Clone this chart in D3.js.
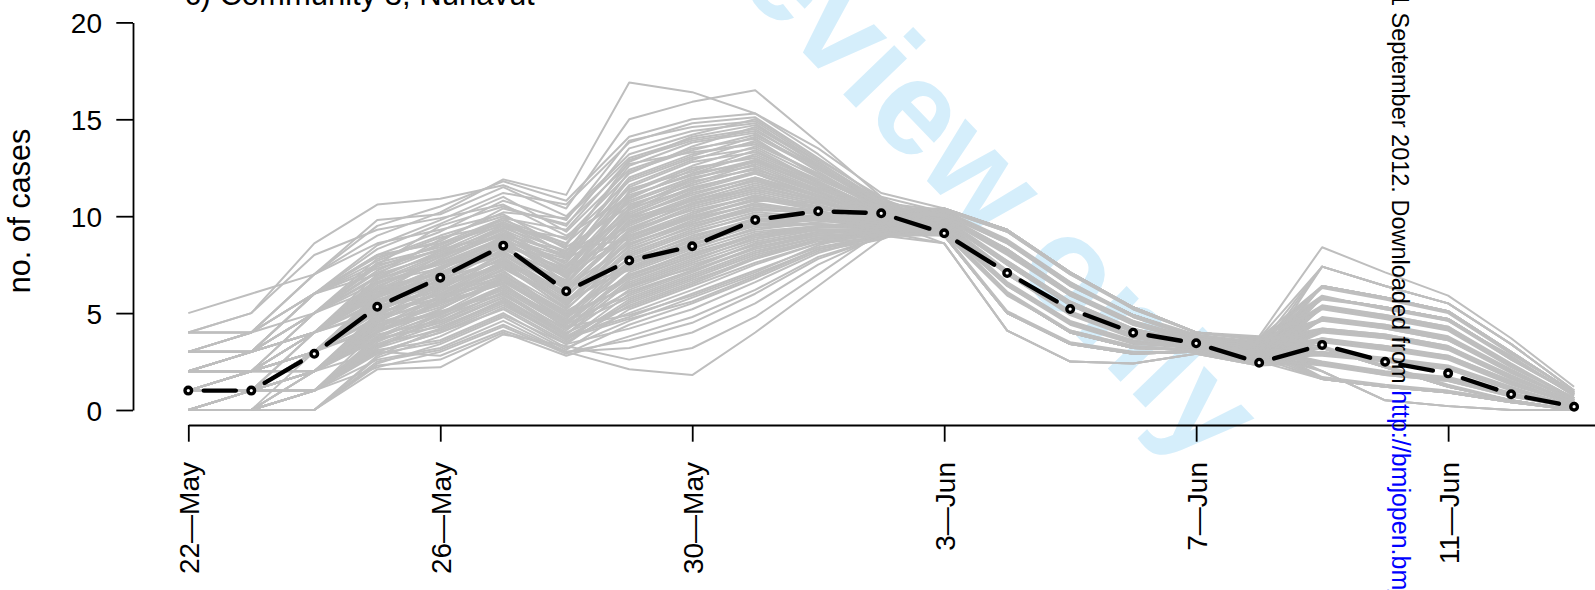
<!DOCTYPE html>
<html>
<head>
<meta charset="utf-8">
<script src="https://cdn.jsdelivr.net/npm/d3@7"></script>
<style>
  body { margin: 0; background: #fff; }
  svg { display: block; }
</style>
</head>
<body>
<svg id="chart" width="1595" height="590"></svg>
<script>
// Daily dates of the series (22 May – 13 June)
const dates = [
  "2009-05-22","2009-05-23","2009-05-24","2009-05-25","2009-05-26","2009-05-27",
  "2009-05-28","2009-05-29","2009-05-30","2009-05-31","2009-06-01","2009-06-02",
  "2009-06-03","2009-06-04","2009-06-05","2009-06-06","2009-06-07","2009-06-08",
  "2009-06-09","2009-06-10","2009-06-11","2009-06-12","2009-06-13"
];
const tickDates = ["2009-05-22","2009-05-26","2009-05-30","2009-06-03","2009-06-07","2009-06-11","2009-06-15"];
const yTicks = [0, 5, 10, 15, 20];

const titleText = "c) Community 3, Nunavut";
const yTitle = "no. of cases";

// Observed daily cases (black dashed line)
const observed = [1, 1, 2.9, 5.33, 6.83, 8.48, 6.13, 7.71, 8.45, 9.81, 10.26, 10.15,
                  9.12, 7.07, 5.21, 3.99, 3.44, 2.44, 3.36, 2.49, 1.89, 0.81, 0.17];

// Simulated epidemic curves (grey lines)
const simulations = [
  [5,6,7,9.0,10.2,11.9,11.1,16.9,16.4,15.3,13.5,11.2, 10.4,9.3,7.1,5.3,4.0,3.7, 7.4,6.4,5.5,3.4,1.0],
  [4,5,8.6,10.6,10.9,11.6,10.4,15.0,15.9,16.5,13.8,11.0, 10.2,8.7,6.5,4.9,3.8,3.5, 5.8,5.3,4.7,2.7,0.8],
  [3,4,7,9.5,10.5,11.8,10.8,14.1,15.0,15.3,13.2,10.8, 10.0,8.2,6.0,4.5,3.6,3.3, 4.7,4.3,3.7,2.0,0.5],
  [2,3,6,8.5,9.8,11.2,10.6,13.8,14.8,15.1,13.0,10.9, 9.8,7.6,5.5,4.1,3.4,3.1, 3.6,3.2,2.7,1.4,0.3],
  [3,4,6,8.0,9.2,10.8,9.8,13.9,14.6,14.9,12.8,10.7, 9.6,7.1,5.0,3.8,3.3,2.9, 6.4,5.8,5.1,3.0,0.9],
  [1,2,5,7.5,9.5,10.5,9.5,13.5,14.4,14.8,12.6,10.6, 9.4,6.5,4.5,3.5,3.2,2.7, 2.9,2.6,2.2,1.1,0.2],
  [4,4,7,9.8,10.1,11.5,10.0,13.2,14.2,15.0,12.9,11.0, 9.2,6.0,4.0,3.2,3.1,2.5, 5.3,4.8,4.2,2.3,0.6],
  [2,2,4,7.0,8.8,10.2,9.9,13.0,14.0,14.5,12.5,10.5, 10.1,8.6,6.5,4.8,3.8,3.4, 4.1,3.8,3.2,1.7,0.4],
  [0,1,4,6.8,8.2,9.6,8.6,12.6,13.8,14.3,12.3,10.4, 10.0,8.3,6.1,4.5,3.6,3.2, 2.4,1.9,1.6,0.8,0.1],
  [3,3,6,8.3,9.6,11.0,9.2,12.4,13.5,14.0,12.0,10.6, 9.8,7.5,5.5,4.2,3.4,3.0, 5.8,5.2,4.7,2.6,0.8],
  [1,1,3,6.0,7.8,9.4,8.2,12.0,13.2,13.8,12.2,10.3, 9.6,7.2,5.0,3.8,3.3,2.8, 4.7,4.4,3.7,2.0,0.5],
  [2,3,5,7.8,9.0,10.0,8.8,11.8,13.0,13.5,11.8,10.2, 10.4,9.2,7.1,5.2,4.0,3.8, 8.4,7.1,5.9,3.7,1.2],
  [0,0,3,5.6,7.2,9.0,7.6,11.5,12.8,13.3,11.9,10.5, 10.2,8.7,6.4,4.9,3.8,3.5, 3.6,3.3,2.7,1.4,0.3],
  [1,2,5,7.2,8.6,9.9,8.0,11.2,12.5,13.0,11.6,10.1, 10.0,8.1,6.0,4.5,3.6,3.3, 5.3,4.8,4.2,2.3,0.6],
  [4,5,8,9.3,9.9,10.6,9.0,11.0,12.2,12.8,11.5,10.4, 9.8,7.6,5.5,4.1,3.5,3.1, 1.6,1.2,0.9,0.4,0.0],
  [0,1,4,6.3,7.9,9.3,7.3,10.8,12.0,12.6,11.3,10.0, 9.6,7.1,5.0,3.9,3.3,2.9, 4.1,3.7,3.2,1.7,0.4],
  [2,2,5,7.6,8.4,9.7,8.4,10.5,11.8,12.4,11.4,10.3, 9.4,6.5,4.5,3.5,3.2,2.7, 6.4,5.8,5.1,3.0,0.9],
  [3,3,6,7.0,8.0,9.1,7.0,10.2,11.5,12.2,11.1,9.9, 9.2,6.0,4.0,3.2,3.1,2.5, 2.9,2.6,2.2,1.1,0.2],
  [1,1,4,6.6,7.5,8.8,6.8,10.0,11.2,12.0,11.0,10.1, 9.0,5.0,3.4,2.9,3.0,2.4, 4.7,4.3,3.7,2.0,0.5],
  [0,0,2,5.0,6.8,8.5,6.5,9.8,11.0,11.8,10.9,9.8, 10.2,8.7,6.5,4.9,3.8,3.5, 3.2,2.2,1.2,0.5,0.0],
  [2,3,6,8.0,8.6,9.5,7.8,9.5,10.8,11.5,10.8,10.0, 10.0,8.2,6.0,4.5,3.6,3.3, 5.8,5.3,4.7,2.7,0.8],
  [1,2,4,5.8,6.9,8.2,6.2,9.2,10.5,11.3,10.6,9.7, 9.8,7.6,5.5,4.1,3.4,3.1, 4.1,3.8,3.2,1.7,0.4],
  [0,1,2,4.5,6.2,7.9,5.8,9.0,10.2,11.0,10.5,9.9, 9.6,7.1,5.0,3.8,3.3,2.9, 2.9,2.6,2.2,1.1,0.2],
  [3,4,7,8.6,9.3,10.1,8.3,8.8,10.0,10.8,10.7,10.2, 10.4,9.3,7.1,5.3,4.0,3.7, 6.4,5.8,5.1,3.0,0.9],
  [1,1,3,5.5,6.5,7.8,5.5,8.5,9.8,10.6,10.3,9.6, 9.4,6.5,4.5,3.5,3.2,2.7, 2.4,1.9,1.6,0.8,0.1],
  [0,0,2,4.2,5.8,7.5,5.2,8.2,9.5,10.3,10.2,9.8, 10.2,8.7,6.5,4.9,3.8,3.5, 5.3,4.8,4.2,2.3,0.6],
  [2,2,4,6.2,7.0,8.0,6.0,8.0,9.2,10.0,10.0,9.5, 10.0,8.2,6.0,4.5,3.6,3.3, 3.6,3.2,2.7,1.4,0.3],
  [1,2,3,4.8,6.0,7.2,4.8,7.7,9.0,9.8,9.9,9.7, 9.8,7.6,5.5,4.1,3.4,3.1, 4.7,4.3,3.7,2.0,0.5],
  [0,0,1,3.8,5.2,6.8,4.5,7.4,8.6,9.5,9.8,9.4, 9.6,7.1,5.0,3.8,3.3,2.9, 2.0,0.5,0.2,0.0,0.0],
  [3,3,5,6.6,7.3,8.4,6.4,7.2,8.4,9.3,9.7,9.8, 9.2,6.0,4.0,3.2,3.1,2.5, 7.4,6.4,5.5,3.4,1.0],
  [1,1,2,4.0,5.5,6.5,4.2,7.0,8.1,9.0,9.5,9.3, 9.4,6.5,4.5,3.5,3.2,2.7, 4.1,3.8,3.2,1.7,0.4],
  [0,1,1,3.2,4.8,6.0,3.9,6.6,7.8,8.8,9.4,9.6, 9.0,5.0,3.4,2.9,3.0,2.4, 2.4,1.9,1.6,0.8,0.1],
  [2,2,3,5.2,6.2,7.0,5.0,6.3,7.5,8.5,9.2,9.2, 10.2,8.7,6.5,4.9,3.8,3.5, 2.9,2.6,2.2,1.1,0.2],
  [0,0,0,2.8,4.2,5.6,3.6,6.0,7.2,8.3,9.0,9.1, 10.0,8.2,6.0,4.5,3.6,3.3, 1.6,1.2,0.9,0.4,0.0],
  [1,1,1,3.0,4.0,5.2,3.4,5.6,6.8,8.0,8.8,9.0, 9.8,7.6,5.5,4.1,3.4,3.1, 5.3,4.8,4.2,2.3,0.6],
  [0,0,0,2.4,3.4,4.8,3.1,5.2,6.4,7.6,8.6,8.9, 9.6,7.1,5.0,3.8,3.3,2.9, 3.6,3.2,2.7,1.4,0.3],
  [1,2,2,3.6,4.5,5.8,3.8,4.8,6.0,7.2,8.4,9.0, 8.6,4.1,2.5,2.4,2.9,2.3, 2.4,1.9,1.6,0.8,0.1],
  [0,0,1,2.2,3.0,4.3,2.9,4.4,5.5,6.8,8.2,8.8, 10.4,9.3,7.1,5.3,4.0,3.7, 4.7,4.3,3.7,2.0,0.5],
  [0,0,0,2.3,2.6,4.0,2.8,3.8,4.8,6.2,7.9,8.9, 9.4,6.5,4.5,3.5,3.2,2.7, 5.8,5.3,4.7,2.7,0.8],
  [1,1,1,2.6,3.2,4.6,3.0,3.2,4.0,5.5,7.5,9.0, 9.2,6.0,4.0,3.2,3.1,2.5, 3.6,3.2,2.7,1.4,0.3],
  [0,0,0,2.1,2.2,3.9,3.3,2.6,3.2,4.8,7.0,9.2, 10.2,8.7,6.5,4.9,3.8,3.5, 2.4,1.9,1.6,0.8,0.1],
  [2,2,2,3.0,2.8,4.1,3.0,2.1,1.8,4.0,6.4,8.8, 10.0,8.2,6.0,4.5,3.6,3.3, 4.1,3.8,3.2,1.7,0.4],
  [2,3,5,6.9,8.1,9.4,8.9,12.2,13.6,14.6,12.7,10.6, 9.8,7.6,5.5,4.1,3.4,3.1, 2.9,2.6,2.2,1.1,0.2],
  [1,2,4,6.4,7.6,8.9,7.9,11.6,12.9,13.9,12.1,10.3, 9.6,7.1,5.0,3.8,3.3,2.9, 3.2,2.2,1.2,0.5,0.0],
  [3,3,5,7.4,8.5,9.8,8.6,11.4,12.3,13.4,11.7,10.2, 10.4,9.3,7.1,5.3,4.0,3.7, 5.3,4.8,4.2,2.3,0.6],
  [0,1,3,5.9,7.4,8.7,7.1,10.9,12.4,13.1,11.7,10.1, 9.4,6.5,4.5,3.5,3.2,2.7, 1.6,1.2,0.9,0.4,0.0],
  [2,2,4,6.5,7.7,9.2,7.5,10.4,11.9,12.9,11.5,10.0, 9.0,5.0,3.4,2.9,3.0,2.4, 4.1,3.8,3.2,1.7,0.4],
  [1,1,3,5.3,6.7,8.3,6.9,10.6,11.6,12.5,11.2,9.9, 10.2,8.7,6.5,4.9,3.8,3.5, 6.4,5.8,5.1,3.0,0.9],
  [3,4,6,7.7,8.9,9.6,8.1,9.9,11.3,12.2,11.0,10.0, 10.0,8.2,6.0,4.5,3.6,3.3, 2.9,2.6,2.2,1.1,0.2],
  [0,0,2,4.7,6.1,7.7,6.0,9.6,10.9,11.9,10.8,9.8, 9.8,7.6,5.5,4.1,3.4,3.1, 2.0,0.5,0.2,0.0,0.0],
  [2,3,4,6.1,7.3,8.6,7.2,9.4,10.6,11.6,10.8,9.9, 9.6,7.1,5.0,3.8,3.3,2.9, 2.4,1.9,1.6,0.8,0.1],
  [1,1,2,4.9,6.4,8.0,6.3,9.1,10.4,11.2,10.5,9.7, 9.2,6.0,4.0,3.2,3.1,2.5, 4.7,4.3,3.7,2.0,0.5],
  [4,4,6,7.3,8.3,9.0,7.4,8.9,10.1,11.1,10.4,9.9, 9.4,6.5,4.5,3.5,3.2,2.7, 3.6,3.2,2.7,1.4,0.3],
  [0,0,1,4.1,5.6,7.3,5.6,8.7,9.9,10.9,10.3,9.6, 10.4,9.3,7.1,5.3,4.0,3.7, 5.8,5.3,4.7,2.7,0.8],
  [2,2,3,5.7,6.6,7.8,6.1,8.6,9.7,10.7,10.2,9.6, 10.2,8.7,6.5,4.9,3.8,3.5, 1.6,1.2,0.9,0.4,0.0],
  [1,2,3,5.0,6.0,7.6,5.4,8.3,9.4,10.4,10.1,9.5, 10.0,8.2,6.0,4.5,3.6,3.3, 3.2,2.2,1.2,0.5,0.0],
  [0,1,2,4.4,5.5,7.0,4.9,7.9,9.1,10.1,9.9,9.5, 9.8,7.6,5.5,4.1,3.4,3.1, 2.4,1.9,1.6,0.8,0.1],
  [3,3,4,6.0,6.8,7.7,5.7,7.8,8.9,9.9,9.9,9.6, 9.6,7.1,5.0,3.8,3.3,2.9, 5.3,4.8,4.2,2.3,0.6],
  [1,1,2,4.3,5.3,6.6,4.7,7.5,8.7,9.7,9.8,9.4, 9.2,6.0,4.0,3.2,3.1,2.5, 4.1,3.8,3.2,1.7,0.4],
  [0,0,1,3.5,4.9,6.3,4.4,7.1,8.3,9.4,9.6,9.3, 9.0,5.0,3.4,2.9,3.0,2.4, 2.9,2.6,2.2,1.1,0.2],
  [2,2,3,5.4,5.9,6.9,5.1,6.9,8.0,9.1,9.5,9.4, 9.4,6.5,4.5,3.5,3.2,2.7, 4.7,4.3,3.7,2.0,0.5],
  [1,1,2,3.9,4.6,6.1,4.1,6.5,7.7,8.9,9.3,9.2, 8.6,4.1,2.5,2.4,2.9,2.3, 3.6,3.2,2.7,1.4,0.3],
  [0,0,1,3.3,4.4,5.8,3.9,6.2,7.4,8.6,9.2,9.2, 10.2,8.7,6.5,4.9,3.8,3.5, 4.7,4.3,3.7,2.0,0.5],
  [2,3,4,5.1,5.7,6.7,4.6,5.9,7.1,8.4,9.1,9.3, 10.0,8.2,6.0,4.5,3.6,3.3, 6.4,5.8,5.1,3.0,0.9],
  [1,1,1,3.4,4.1,5.5,3.6,5.7,6.9,8.1,8.9,9.1, 9.8,7.6,5.5,4.1,3.4,3.1, 3.6,3.2,2.7,1.4,0.3],
  [0,0,0,2.7,3.8,5.3,3.5,5.4,6.6,7.9,8.8,9.0, 9.6,7.1,5.0,3.8,3.3,2.9, 1.6,1.2,0.9,0.4,0.0],
  [1,2,2,3.7,4.3,5.6,3.7,5.0,6.2,7.5,8.6,9.1, 10.4,9.3,7.1,5.3,4.0,3.7, 2.9,2.6,2.2,1.1,0.2],
  [0,1,1,3.1,3.6,5.0,3.2,4.6,5.8,7.0,8.3,8.9, 9.2,6.0,4.0,3.2,3.1,2.5, 2.4,1.9,1.6,0.8,0.1],
  [2,2,3,4.4,5.0,6.2,4.3,4.9,5.9,7.1,8.5,9.3, 9.4,6.5,4.5,3.5,3.2,2.7, 5.3,4.8,4.2,2.3,0.6],
  [1,1,1,2.9,3.5,4.9,3.4,4.2,5.2,6.6,8.1,9.0, 9.0,5.0,3.4,2.9,3.0,2.4, 3.2,2.2,1.2,0.5,0.0],
  [0,0,0,2.5,3.1,4.4,3.0,3.6,4.5,6.0,7.8,8.9, 10.2,8.7,6.5,4.9,3.8,3.5, 2.0,0.5,0.2,0.0,0.0],
  [3,4,5,6.3,7.1,8.1,6.6,10.1,11.4,12.3,11.2,10.3, 10.0,8.2,6.0,4.5,3.6,3.3, 7.4,6.4,5.5,3.4,1.0],
  [1,2,3,5.6,7.0,8.4,7.7,11.9,13.1,14.1,12.4,10.6, 9.8,7.6,5.5,4.1,3.4,3.1, 4.1,3.8,3.2,1.7,0.4],
  [2,2,4,6.7,8.0,9.5,8.5,12.8,14.1,14.7,12.8,10.8, 9.6,7.1,5.0,3.8,3.3,2.9, 5.8,5.3,4.7,2.7,0.8],
  [0,1,2,4.6,6.3,8.1,6.7,11.3,12.6,13.6,12.0,10.4, 10.4,9.3,7.1,5.3,4.0,3.7, 4.1,3.8,3.2,1.7,0.4],
  [1,1,3,5.2,6.9,8.6,7.0,10.3,11.7,12.7,11.4,10.2, 9.4,6.5,4.5,3.5,3.2,2.7, 2.9,2.6,2.2,1.1,0.2],
  [2,3,4,6.0,7.4,8.8,6.6,9.7,10.9,11.9,11.0,10.0, 9.2,6.0,4.0,3.2,3.1,2.5, 1.6,1.2,0.9,0.4,0.0],
  [0,0,2,4.0,5.7,7.4,5.3,9.3,10.7,11.4,10.7,9.8, 8.6,4.1,2.5,2.4,2.9,2.3, 5.3,4.8,4.2,2.3,0.6],
  [1,2,3,5.3,6.3,7.6,5.9,8.4,9.6,10.5,10.2,9.7, 10.2,8.7,6.5,4.9,3.8,3.5, 3.6,3.2,2.7,1.4,0.3],
  [3,3,4,5.5,6.4,7.4,5.5,7.6,8.8,9.6,9.8,9.5, 10.0,8.2,6.0,4.5,3.6,3.3, 4.7,4.3,3.7,2.0,0.5],
  [0,0,1,3.6,4.7,6.4,4.6,6.8,7.9,9.0,9.4,9.4, 9.8,7.6,5.5,4.1,3.4,3.1, 3.2,2.2,1.2,0.5,0.0],
  [1,1,2,4.5,5.4,6.7,4.8,6.4,7.6,8.7,9.3,9.3, 9.6,7.1,5.0,3.8,3.3,2.9, 7.4,6.4,5.5,3.4,1.0],
  [2,2,3,4.2,5.1,6.0,4.0,5.3,6.5,7.8,8.8,9.2, 9.0,5.0,3.4,2.9,3.0,2.4, 5.8,5.3,4.7,2.7,0.8],
  [0,0,1,3.0,4.0,5.4,3.7,4.7,5.6,6.9,8.3,9.0, 9.2,6.0,4.0,3.2,3.1,2.5, 6.4,5.8,5.1,3.0,0.9],
  [2,3,5,7.1,8.3,9.9,9.3,12.9,13.9,14.4,12.6,10.7, 10.3,8.8,6.6,4.8,3.7,3.4, 5.4,4.9,4.3,2.4,0.6],
  [1,2,4,6.2,7.7,9.1,8.0,12.3,13.4,14.2,12.5,10.5, 9.9,8.1,5.9,4.4,3.5,3.2, 4.2,3.9,3.3,1.8,0.4],
  [3,3,6,7.9,8.7,10.4,9.6,12.7,13.3,13.7,12.2,10.6, 9.7,7.5,5.4,4.0,3.4,3.0, 3.7,3.3,2.8,1.5,0.3],
  [0,1,3,5.4,7.0,8.7,7.8,11.1,12.1,12.9,11.8,10.3, 9.5,7.0,4.9,3.7,3.2,2.8, 2.8,2.5,2.1,1.0,0.2],
  [2,2,4,6.6,7.9,9.0,8.2,10.7,11.9,12.8,11.6,10.2, 10.1,8.3,6.1,4.6,3.7,3.4, 6.3,5.7,5.0,2.9,0.9],
  [1,1,3,5.8,7.1,8.5,7.3,10.4,11.4,12.3,11.3,10.1, 9.3,6.4,4.4,3.4,3.2,2.6, 4.8,4.4,3.8,2.1,0.5],
  [4,4,6,7.5,8.2,9.3,7.9,10.0,11.1,12.0,11.1,10.1, 9.9,7.7,5.6,4.2,3.5,3.2, 2.5,2.0,1.7,0.9,0.1],
  [0,0,2,4.8,6.6,8.3,6.9,9.9,10.8,11.7,10.9,9.9, 9.7,7.2,5.1,3.9,3.3,3.0, 3.5,3.1,2.6,1.3,0.3],
  [2,2,3,5.9,7.2,8.9,7.1,9.7,10.6,11.4,10.7,9.9, 10.3,9.2,7.0,5.2,4.0,3.6, 5.9,5.2,4.6,2.8,0.7],
  [1,2,3,5.1,6.4,8.0,6.4,9.3,10.3,11.0,10.5,9.8, 9.3,6.1,4.1,3.3,3.1,2.6, 4.0,3.7,3.1,1.6,0.4],
  [3,3,5,6.8,7.6,8.7,6.9,9.0,10.0,10.9,10.4,9.9, 10.1,8.6,6.4,4.8,3.7,3.4, 1.7,1.3,1.0,0.5,0.0],
  [0,1,2,4.3,5.9,7.6,5.9,8.8,9.9,10.6,10.2,9.7, 9.5,6.6,4.6,3.6,3.2,2.8, 3.0,2.7,2.3,1.2,0.2],
  [2,2,4,5.9,6.9,8.2,6.3,8.6,9.6,10.4,10.1,9.6, 9.9,8.1,6.0,4.4,3.5,3.2, 4.6,4.2,3.6,1.9,0.5],
  [1,1,2,4.6,5.8,7.1,5.2,8.1,9.3,10.2,10.0,9.6, 9.7,7.5,5.4,4.0,3.4,3.0, 5.2,4.7,4.1,2.2,0.6],
  [0,0,1,3.7,5.0,6.7,4.9,7.6,8.8,9.8,9.8,9.5, 9.1,5.9,4.1,3.3,3.1,2.6, 2.3,1.8,1.5,0.7,0.1],
  [2,3,4,5.6,6.5,7.5,5.6,7.3,8.5,9.6,9.6,9.5, 9.5,7.0,5.0,3.8,3.3,2.8, 3.7,3.2,2.8,1.5,0.3],
  [1,1,2,4.1,5.0,6.4,4.5,6.9,8.2,9.2,9.5,9.4, 10.3,9.2,7.0,5.3,4.0,3.6, 4.2,3.9,3.3,1.7,0.4],
  [0,0,1,3.4,4.6,5.9,4.2,6.7,7.9,9.0,9.3,9.3, 9.9,8.0,5.9,4.5,3.6,3.2, 2.9,2.5,2.1,1.1,0.2],
  [3,3,4,5.0,5.8,6.8,4.9,6.4,7.3,8.6,9.1,9.3, 9.3,6.4,4.5,3.5,3.2,2.7, 5.3,4.9,4.3,2.3,0.6],
  [1,2,2,3.8,4.9,6.2,4.3,5.8,7.0,8.2,8.9,9.2, 9.7,7.7,5.6,4.2,3.5,3.2, 2.4,1.8,1.5,0.7,0.1],
  [0,0,1,3.2,4.2,5.7,3.8,5.5,6.7,7.8,8.7,9.0, 9.5,7.0,5.0,3.9,3.3,2.9, 4.7,4.2,3.6,2.0,0.5],
  [2,2,3,4.7,5.6,6.5,4.4,6.1,7.2,8.4,9.0,9.2, 10.1,8.7,6.6,4.9,3.9,3.5, 3.3,2.3,1.3,0.5,0.0],
  [1,1,2,4.0,5.2,6.9,5.0,7.3,8.5,9.5,9.6,9.4, 9.1,5.1,3.5,3.0,3.0,2.4, 3.6,3.3,2.7,1.4,0.3],
  [0,1,3,5.5,7.3,8.8,7.4,11.0,12.2,13.2,11.8,10.3, 10.0,8.3,6.0,4.6,3.6,3.3, 5.7,5.3,4.6,2.6,0.8]
];

const W = 1595, H = 590;
const font = "'Liberation Sans', Arial, Helvetica, sans-serif";
const parse = d3.utcParse("%Y-%m-%d");
const days = dates.map(parse);

const x = d3.scaleUtc().domain([days[0], days[days.length - 1]]).range([188.3, 1574.1]);
const y = d3.scaleLinear().domain([0, 20]).range([410, 22.4]);

const svg = d3.select("#chart");
svg.append("rect").attr("width", W).attr("height", H).attr("fill", "#fff");

// Diagonal watermark behind the plot (anchored at the end of the phrase)
svg.append("text")
  .attr("transform", "translate(1204,468) rotate(46)")
  .attr("text-anchor", "end")
  .attr("font-family", font)
  .attr("font-weight", "bold")
  .attr("font-size", 134)
  .attr("fill", "#d5eefb")
  .text("For peer review only");

// Simulated curves
const line = d3.line().x((d, i) => x(days[i])).y(d => y(d));
svg.append("g")
  .selectAll("path")
  .data(simulations)
  .join("path")
  .attr("d", line)
  .attr("fill", "none")
  .attr("stroke", "#bebebe")
  .attr("stroke-width", 2.0)
  .attr("stroke-linejoin", "round");

// Observed curve: points joined by segments that stop short of each point
const pts = observed.map((v, i) => [x(days[i]), y(v)]);
const gap = 15.5;
const segs = d3.pairs(pts).map(([a, b]) => {
  const dx = b[0] - a[0], dy = b[1] - a[1];
  const len = Math.hypot(dx, dy);
  const ux = dx / len, uy = dy / len;
  return [a[0] + ux * gap, a[1] + uy * gap, b[0] - ux * gap, b[1] - uy * gap];
});
svg.append("g")
  .selectAll("line")
  .data(segs)
  .join("line")
  .attr("x1", d => d[0]).attr("y1", d => d[1])
  .attr("x2", d => d[2]).attr("y2", d => d[3])
  .attr("stroke", "#000")
  .attr("stroke-width", 4.4)
  .attr("stroke-linecap", "round");
svg.append("g")
  .selectAll("circle")
  .data(pts)
  .join("circle")
  .attr("cx", d => d[0]).attr("cy", d => d[1])
  .attr("r", 3.3)
  .attr("fill", "#fff")
  .attr("stroke", "#000")
  .attr("stroke-width", 3.4);

// Y axis
const yAxis = svg.append("g")
  .attr("transform", "translate(133,0)")
  .call(d3.axisLeft(y).tickValues(yTicks).tickSize(16.7).tickSizeOuter(0).tickPadding(14.3));
yAxis.select(".domain").attr("stroke", "#000").attr("stroke-width", 1.8);
yAxis.selectAll(".tick line").attr("stroke", "#000").attr("stroke-width", 1.8);
yAxis.selectAll(".tick text")
  .attr("font-family", font).attr("font-size", 28).attr("fill", "#000")
  .attr("dy", "0.36em");

// X axis (line runs from the first to the last tick date)
const tickDays = tickDates.map(parse);
const xAxisScale = x.copy()
  .domain([tickDays[0], tickDays[tickDays.length - 1]])
  .range([x(tickDays[0]), x(tickDays[tickDays.length - 1])]);
const fmt = d => `${d.getUTCDate()}\u2014${d3.utcFormat("%b")(d)}`;
const xAxis = svg.append("g")
  .attr("transform", "translate(0,425)")
  .call(d3.axisBottom(xAxisScale).tickValues(tickDays).tickFormat(fmt).tickSize(16.7).tickSizeOuter(0));
xAxis.select(".domain").attr("stroke", "#000").attr("stroke-width", 1.8);
xAxis.selectAll(".tick line").attr("stroke", "#000").attr("stroke-width", 1.8);
xAxis.selectAll(".tick text")
  .attr("font-family", font).attr("font-size", 28).attr("fill", "#000")
  .attr("text-anchor", "end")
  .attr("transform", "rotate(-90)")
  .attr("x", -37).attr("y", 10).attr("dy", null);

// Axis title
svg.append("text")
  .attr("transform", "translate(30,211) rotate(-90)")
  .attr("text-anchor", "middle")
  .attr("font-family", font).attr("font-size", 30.5).attr("fill", "#000")
  .text(yTitle);

// Panel title
svg.append("text")
  .attr("x", 185).attr("y", 5)
  .attr("font-family", font).attr("font-size", 31).attr("fill", "#000")
  .text(titleText);

// Vertical download notice
const note = svg.append("text")
  .attr("transform", "translate(1392,-7) rotate(90)")
  .attr("font-family", font).attr("font-size", 23.5).attr("fill", "#000");
note.append("tspan").text("1 September 2012. Downloaded from ");
note.append("tspan").attr("fill", "#0000ff").attr("font-size", 25).text("http://bmjopen.bmj.com/");
</script>
</body>
</html>
